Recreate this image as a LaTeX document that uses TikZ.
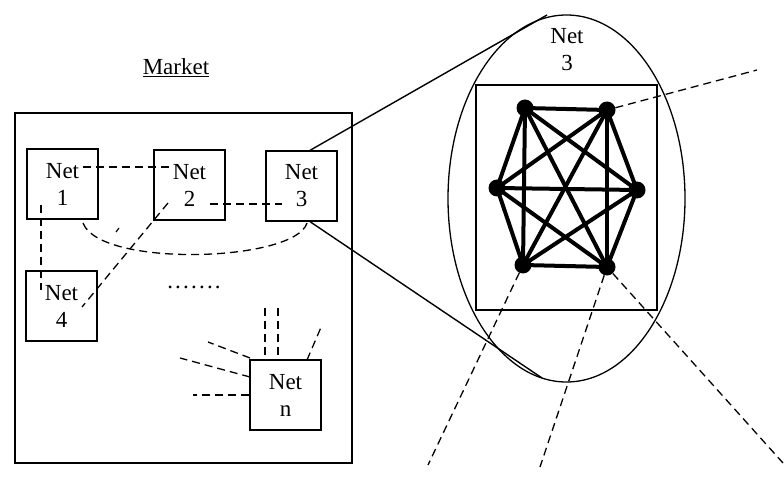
\documentclass[tikz,border=0pt]{standalone}
\usepackage{fontspec}
\setmainfont{Liberation Serif}
\usetikzlibrary{shapes.geometric,calc}
\begin{document}
\begin{tikzpicture}[x=1pt,y=-1pt,
  netbox/.style={draw,line width=1.3pt,minimum width=71pt,minimum height=70pt,inner sep=0pt,align=center,font=\fontsize{23}{27}\selectfont},
  dashln/.style={line width=1.3pt,dash pattern=on 8pt off 5pt},
  solidln/.style={line width=1.4pt},
  vert/.style={circle,fill=black,minimum size=17pt,inner sep=0pt},
  edge/.style={line width=4pt},
  lbl/.style={font=\fontsize{23}{27}\selectfont,align=center,inner sep=0pt}]
\useasboundingbox (0,0) rectangle (784,497);
% market
\node[lbl] (mkt) at (176,68) {\underline{Market}};
\node[draw,line width=1.4pt,minimum width=337pt,minimum height=350pt,inner sep=0pt] (market) at (183.5,288) {};
\node[netbox] (n1) at (62.5,184) {Net\\1};
\node[netbox] (n2) at (189.5,185) {Net\\2};
\node[netbox] (n3) at (301.5,186) {Net\\3};
\node[netbox] (n4) at (61.5,306) {Net\\4};
\node[netbox] (nn) at (285.5,395) {Net\\n};
% dashed links
\coordinate (a1) at (83,167); \coordinate (a2) at (170,167);
\draw[dashln] (a1) -- (a2);
\coordinate (b2) at (210,204); \coordinate (b3) at (282,204);
\draw[dashln] (b2) -- (b3);
\coordinate (c1) at (41,205); \coordinate (c4) at (41,290);
\draw[dashln] (c1) -- (c4);
\coordinate (d2) at (168,203); \coordinate (d4) at (82,307);
\draw[dashln] (d2) -- (d4);
\coordinate (e1) at (83,223); \coordinate (e3) at (307,223);
\draw[dashln] (e1) .. controls (100,268) and (295,262) .. (e3);
\draw[line width=1.2pt] (116,232) -- (119,228);
\node[lbl] (dots) at (194,287) {.\kern2.2pt.\kern2.2pt.\kern2.2pt.\kern2.2pt.\kern2.2pt.\kern2.2pt.};
% net n lines
\coordinate (f1) at (265,308); \coordinate (f2) at (278,308);
\draw[dashln] (f1) -- (265,360);
\draw[dashln] (f2) -- (278,360);
\coordinate (g1) at (322,325);
\draw[dashln] (307,360) -- (g1);
\coordinate (h1) at (208,342); \coordinate (h2) at (180,358); \coordinate (h3) at (193,395);
\draw[dashln] (250,358) -- (h1);
\draw[dashln] (250,377) -- (h2);
\draw[dashln] (nn.west |- h3) -- (h3);
% zoom
\node[draw,ellipse,line width=1.3pt,minimum width=237pt,minimum height=367pt,inner sep=0pt] (zoom) at (566.5,198.5) {};
\node[lbl] (zl) at (567,50) {Net\\3};
\node[draw,line width=1.4pt,minimum width=181pt,minimum height=225pt,inner sep=0pt] (sq) at (566.5,197.5) {};
\coordinate (z1) at (547,15); \coordinate (z2) at (542,378);
\draw[solidln] (n3.north -| 310,0) -- (z1);
\draw[solidln] (n3.south -| 310,0) -- (z2);
% K6
\coordinate (vTL) at (525,108);
\coordinate (vTR) at (607,110);
\coordinate (vL) at (497,188);
\coordinate (vR) at (637,190);
\coordinate (vBL) at (523,265);
\coordinate (vBR) at (607,267);
\foreach \a/\b in {vTL/vTR,vTL/vL,vTL/vBL,vTL/vR,vTL/vBR,vTR/vL,vTR/vBL,vTR/vR,vTR/vBR,vL/vR,vL/vBL,vL/vBR,vR/vBL,vR/vBR,vBL/vBR}
  \draw[edge] (\a) -- (\b);
\foreach \v in {vTL,vTR,vL,vR,vBL,vBR}
  \node[vert] (d\v) at (\v) {};
\coordinate (o1) at (757,70);
\coordinate (o2) at (428,465);
\coordinate (o3) at (540,467);
\coordinate (o4) at (783,463);
\draw[dashln] (dvTR) -- (o1);
\draw[dashln] (dvBL) -- (o2);
\draw[dashln] (dvBR) -- (o3);
\draw[dashln] (dvBR) -- (o4);
\end{tikzpicture}
\end{document}
